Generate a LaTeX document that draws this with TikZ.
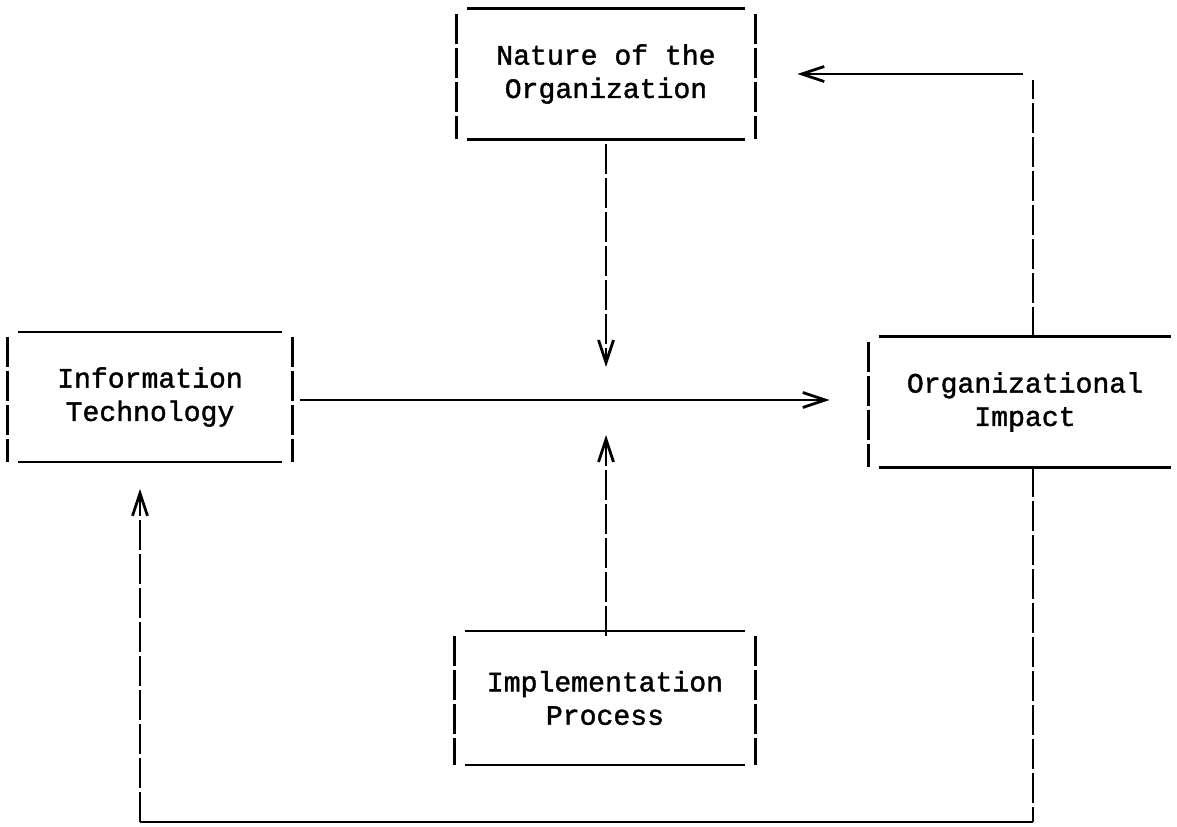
\documentclass[tikz,border=0pt]{standalone}
\usepackage{fontspec}
\usepackage{tikz}
\usetikzlibrary{arrows.meta}
\usetikzlibrary{positioning}
\newfontfamily\typewriter[FakeBold=1.4]{Liberation Mono}

\tikzset{
  factor/.style={align=center, inner sep=0pt, font=\typewriter\fontsize{16}{19}\selectfont},
  hline/.style={line width=1.4pt},
  vline/.style={line width=1.4pt, dash pattern=on 0.6cm off 0.08cm},
  barb/.style={-{Straight Barb[length=0.45cm, width=0.3cm, line width=1.6pt]}}
}

\begin{document}
  \begin{tikzpicture}[x=0.02cm, y=-0.02cm]
    \useasboundingbox (0,0) rectangle (1177,827);

    \node[factor, minimum width=5.96cm, minimum height=2.6cm] (nature) at (606,74) {Nature of the\\Organization};
    \node[factor, minimum width=5.68cm, minimum height=2.58cm] (infotech) at (150,397) {Information\\Technology};
    \node[factor, minimum width=6.24cm, minimum height=2.6cm] (impact) at (1025,402) {Organizational\\Impact};
    \node[factor, minimum width=6.0cm, minimum height=2.66cm] (implement) at (605,698) {Implementation\\Process};

    \coordinate (hub) at (606,400);
    \coordinate (turnA) at (1033,74);
    \coordinate (turnB) at (1033,822);
    \coordinate (turnC) at (140,822);

    % typed boxes: solid top and bottom, barred sides
    \foreach \n in {nature, infotech, impact, implement} {
      \draw[hline] ([xshift=0.2cm]\n.north west) -- ([xshift=-0.2cm]\n.north east);
      \draw[hline] ([xshift=0.2cm]\n.south west) -- ([xshift=-0.2cm]\n.south east);
      \draw[vline] ([yshift=-0.1cm]\n.north west) -- (\n.south west);
    }
    \foreach \n in {nature, infotech, implement}
      \draw[vline] ([yshift=-0.1cm]\n.north east) -- (\n.south east);

    % main path and moderators
    \draw[hline, barb, shorten <=0.16cm, shorten >=0.78cm] (infotech.east |- hub) -- (impact.west |- hub);
    \draw[vline, barb, shorten <=0.1cm, shorten >=0.66cm] (nature.south -| hub) -- (hub);
    \draw[vline, barb, shorten <=-0.1cm, shorten >=0.7cm] (implement.north -| hub) -- (hub);

    % feedback loops
    \draw[vline, shorten >=0.12cm] (impact.north -| turnA) -- (turnA);
    \draw[hline, barb, shorten <=0.2cm, shorten >=0.84cm] (turnA) -- (turnA -| nature.east);
    \draw[vline] (impact.south -| turnB) -- (turnB);
    \draw[hline] (turnB) -- (turnC);
    \draw[vline, barb, shorten >=0.54cm] (turnC) -- (infotech.south -| turnC);
  \end{tikzpicture}
\end{document}
